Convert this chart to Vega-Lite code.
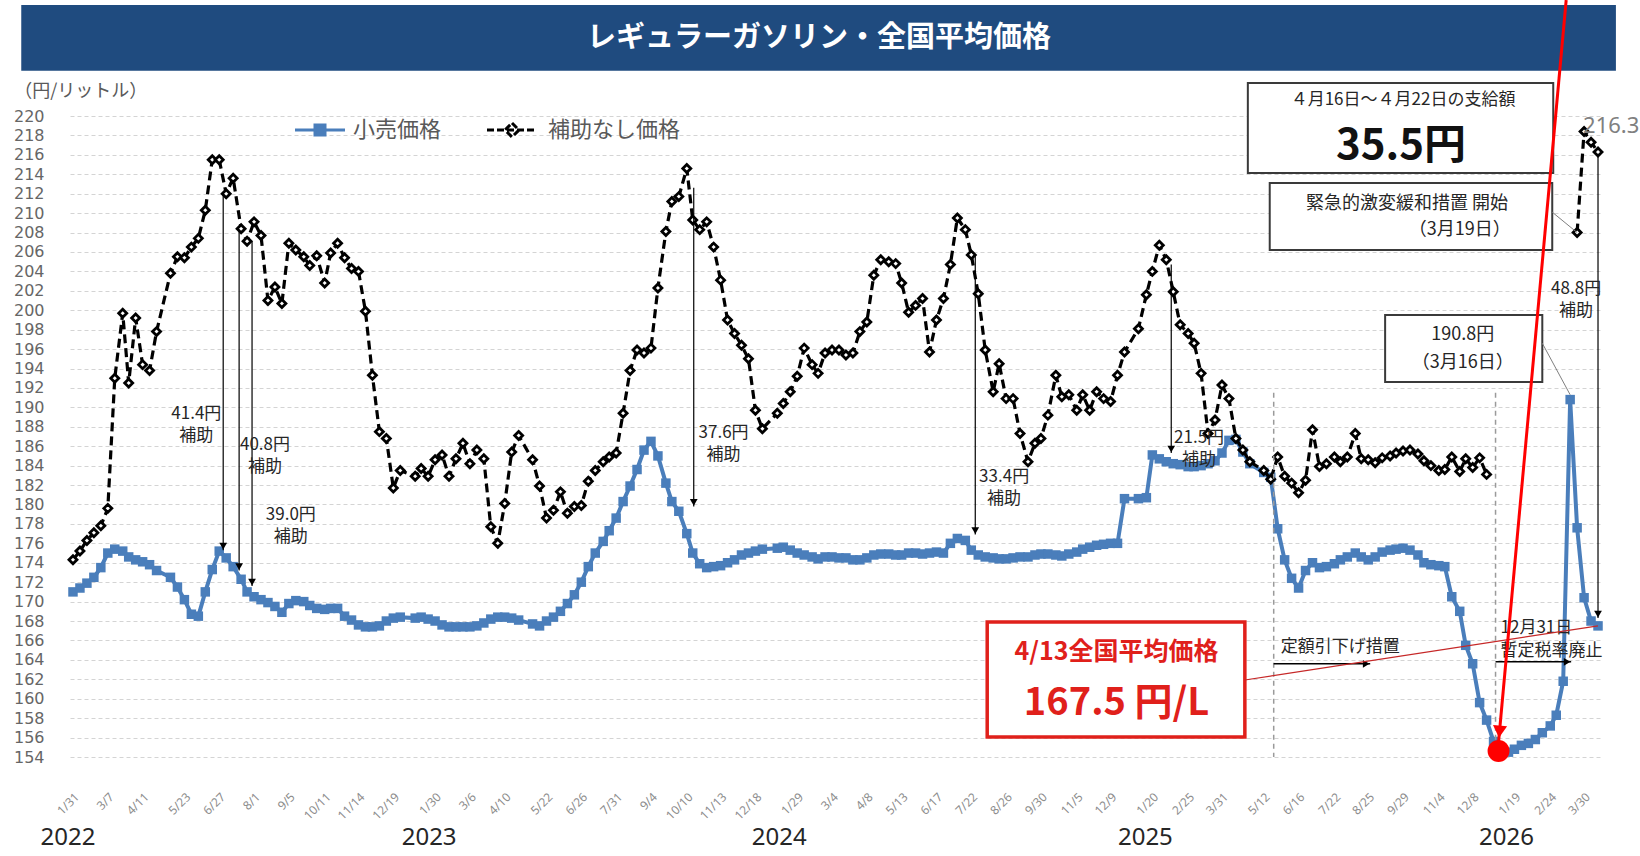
{
"$schema": "https://vega.github.io/schema/vega-lite/v6.json",
"width": 1530, "height": 641,
"autosize": {"type": "none"},
"padding": {"left": 70, "top": 116, "right": 40, "bottom": 99},
"background": "#ffffff",
"config": {"view": {"stroke": null}, "axis": {"labelOverlap": false, "labelBound": false, "labelFlush": false}},
"resolve": {"scale": {"color": "independent"}, "legend": {"color": "independent"}},
"datasets": {
"main": [
{"d":"2022-01-31","r":171.0,"n":174.3},{"d":"2022-02-07","r":171.4,"n":175.2},{"d":"2022-02-14","r":171.9,"n":176.3},{"d":"2022-02-21","r":172.5,"n":177.1},{"d":"2022-02-28","r":173.5,"n":177.8},
{"d":"2022-03-07","r":175.0,"n":179.6},{"d":"2022-03-14","r":175.4,"n":193.0},{"d":"2022-03-22","r":175.2,"n":199.7},{"d":"2022-03-28","r":174.6,"n":192.5},{"d":"2022-04-04","r":174.3,"n":199.2},
{"d":"2022-04-11","r":174.1,"n":194.4},{"d":"2022-04-18","r":173.8,"n":193.8},{"d":"2022-04-25","r":173.2,"n":197.8},{"d":"2022-05-09","r":172.5,"n":203.8},{"d":"2022-05-16","r":171.5,"n":205.5},
{"d":"2022-05-23","r":170.2,"n":205.4},{"d":"2022-05-30","r":168.7,"n":206.5},{"d":"2022-06-06","r":168.5,"n":207.4},{"d":"2022-06-13","r":171.0,"n":210.3},{"d":"2022-06-20","r":173.3,"n":215.5},
{"d":"2022-06-27","r":175.2,"n":215.5},{"d":"2022-07-04","r":174.5,"n":212.0},{"d":"2022-07-11","r":173.6,"n":213.6},{"d":"2022-07-19","r":172.3,"n":208.4},{"d":"2022-07-25","r":171.0,"n":207.1},
{"d":"2022-08-01","r":170.5,"n":209.1},{"d":"2022-08-08","r":170.2,"n":207.7},{"d":"2022-08-15","r":169.9,"n":201.0},{"d":"2022-08-22","r":169.5,"n":202.4},{"d":"2022-08-29","r":168.9,"n":200.7},
{"d":"2022-09-05","r":169.8,"n":206.9},{"d":"2022-09-12","r":170.1,"n":206.2},{"d":"2022-09-20","r":170.0,"n":205.5},{"d":"2022-09-26","r":169.6,"n":204.6},{"d":"2022-10-03","r":169.3,"n":205.6},
{"d":"2022-10-11","r":169.2,"n":202.8},{"d":"2022-10-17","r":169.3,"n":205.9},{"d":"2022-10-24","r":169.3,"n":206.9},{"d":"2022-10-31","r":168.5,"n":205.4},{"d":"2022-11-07","r":168.1,"n":204.3},
{"d":"2022-11-14","r":167.6,"n":204.0},{"d":"2022-11-21","r":167.4,"n":199.9},{"d":"2022-11-28","r":167.4,"n":193.3},{"d":"2022-12-05","r":167.5,"n":187.5},{"d":"2022-12-12","r":168.0,"n":186.8},
{"d":"2022-12-19","r":168.3,"n":181.7},{"d":"2022-12-26","r":168.4,"n":183.5},{"d":"2023-01-10","r":168.3,"n":182.9},{"d":"2023-01-16","r":168.4,"n":183.7},{"d":"2023-01-23","r":168.2,"n":182.9},
{"d":"2023-01-30","r":168.0,"n":184.6},{"d":"2023-02-06","r":167.6,"n":185.1},{"d":"2023-02-13","r":167.4,"n":182.9},{"d":"2023-02-20","r":167.4,"n":184.7},{"d":"2023-02-27","r":167.4,"n":186.3},
{"d":"2023-03-06","r":167.4,"n":184.2},{"d":"2023-03-13","r":167.5,"n":185.6},{"d":"2023-03-20","r":167.8,"n":184.7},{"d":"2023-03-27","r":168.2,"n":177.7},{"d":"2023-04-03","r":168.4,"n":176.0},
{"d":"2023-04-10","r":168.4,"n":180.1},{"d":"2023-04-17","r":168.3,"n":185.4},{"d":"2023-04-24","r":168.1,"n":187.1},{"d":"2023-05-08","r":167.7,"n":184.6},{"d":"2023-05-15","r":167.5,"n":181.9},
{"d":"2023-05-22","r":168.0,"n":178.6},{"d":"2023-05-29","r":168.4,"n":179.4},{"d":"2023-06-05","r":169.0,"n":181.3},{"d":"2023-06-12","r":169.8,"n":179.1},{"d":"2023-06-19","r":170.7,"n":179.8},
{"d":"2023-06-26","r":172.0,"n":179.9},{"d":"2023-07-03","r":173.6,"n":182.4},{"d":"2023-07-10","r":175.0,"n":183.5},{"d":"2023-07-18","r":176.2,"n":184.4},{"d":"2023-07-24","r":177.3,"n":184.9},
{"d":"2023-07-31","r":178.6,"n":185.3},{"d":"2023-08-07","r":180.3,"n":189.4},{"d":"2023-08-14","r":181.9,"n":193.8},{"d":"2023-08-21","r":183.6,"n":195.9},{"d":"2023-08-28","r":185.6,"n":195.6},
{"d":"2023-09-04","r":186.5,"n":196.1},{"d":"2023-09-11","r":185.0,"n":202.3},{"d":"2023-09-19","r":182.2,"n":208.1},{"d":"2023-09-25","r":180.3,"n":211.2},{"d":"2023-10-02","r":179.3,"n":211.7},
{"d":"2023-10-10","r":177.0,"n":214.6},{"d":"2023-10-16","r":175.0,"n":209.3},{"d":"2023-10-23","r":173.9,"n":208.3},{"d":"2023-10-30","r":173.5,"n":209.1},{"d":"2023-11-06","r":173.6,"n":206.5},
{"d":"2023-11-13","r":173.7,"n":203.1},{"d":"2023-11-20","r":174.0,"n":199.0},{"d":"2023-11-27","r":174.3,"n":197.6},{"d":"2023-12-04","r":174.8,"n":196.4},{"d":"2023-12-11","r":175.0,"n":195.0},
{"d":"2023-12-18","r":175.2,"n":189.7},{"d":"2023-12-25","r":175.4,"n":187.8},{"d":"2024-01-09","r":175.5,"n":189.4},{"d":"2024-01-15","r":175.6,"n":190.4},{"d":"2024-01-22","r":175.3,"n":191.6},
{"d":"2024-01-29","r":175.0,"n":193.2},{"d":"2024-02-05","r":174.8,"n":196.1},{"d":"2024-02-13","r":174.6,"n":194.4},{"d":"2024-02-19","r":174.4,"n":193.5},{"d":"2024-02-26","r":174.6,"n":195.6},
{"d":"2024-03-04","r":174.6,"n":195.9},{"d":"2024-03-11","r":174.5,"n":195.9},{"d":"2024-03-18","r":174.5,"n":195.4},{"d":"2024-03-25","r":174.3,"n":195.6},{"d":"2024-04-01","r":174.3,"n":197.8},
{"d":"2024-04-08","r":174.5,"n":198.8},{"d":"2024-04-15","r":174.8,"n":203.6},{"d":"2024-04-22","r":174.9,"n":205.2},{"d":"2024-04-30","r":174.9,"n":205.0},{"d":"2024-05-07","r":174.8,"n":204.8},
{"d":"2024-05-13","r":174.8,"n":202.8},{"d":"2024-05-20","r":175.0,"n":199.8},{"d":"2024-05-27","r":175.0,"n":200.5},{"d":"2024-06-03","r":174.9,"n":201.2},{"d":"2024-06-10","r":175.0,"n":195.7},
{"d":"2024-06-17","r":175.1,"n":199.0},{"d":"2024-06-24","r":175.0,"n":201.2},{"d":"2024-07-01","r":176.0,"n":204.7},{"d":"2024-07-08","r":176.5,"n":209.5},{"d":"2024-07-16","r":176.3,"n":208.3},
{"d":"2024-07-22","r":175.3,"n":205.7},{"d":"2024-07-29","r":174.8,"n":201.7},{"d":"2024-08-05","r":174.6,"n":195.9},{"d":"2024-08-13","r":174.5,"n":191.6},{"d":"2024-08-19","r":174.4,"n":194.5},
{"d":"2024-08-26","r":174.4,"n":190.9},{"d":"2024-09-02","r":174.5,"n":190.9},{"d":"2024-09-09","r":174.6,"n":187.3},{"d":"2024-09-17","r":174.6,"n":184.4},{"d":"2024-09-24","r":174.8,"n":186.3},
{"d":"2024-09-30","r":174.9,"n":186.8},{"d":"2024-10-07","r":174.9,"n":189.2},{"d":"2024-10-15","r":174.8,"n":193.3},{"d":"2024-10-21","r":174.7,"n":191.1},{"d":"2024-10-28","r":174.9,"n":191.3},
{"d":"2024-11-05","r":175.1,"n":189.7},{"d":"2024-11-11","r":175.4,"n":191.3},{"d":"2024-11-18","r":175.6,"n":189.7},{"d":"2024-11-25","r":175.8,"n":191.6},{"d":"2024-12-02","r":175.9,"n":190.9},
{"d":"2024-12-09","r":176.0,"n":190.6},{"d":"2024-12-16","r":176.0,"n":193.3},{"d":"2024-12-23","r":180.6,"n":195.7},{"d":"2025-01-06","r":180.6,"n":198.1},{"d":"2025-01-14","r":180.7,"n":201.6},
{"d":"2025-01-20","r":185.1,"n":204.0},{"d":"2025-01-27","r":184.7,"n":206.7},{"d":"2025-02-03","r":184.4,"n":205.2},{"d":"2025-02-10","r":184.2,"n":201.9},{"d":"2025-02-17","r":184.1,"n":198.5},
{"d":"2025-02-25","r":183.9,"n":197.6},{"d":"2025-03-03","r":183.9,"n":196.6},{"d":"2025-03-10","r":184.0,"n":193.5},{"d":"2025-03-17","r":184.2,"n":187.3},{"d":"2025-03-24","r":184.5,"n":188.7},
{"d":"2025-03-31","r":185.3,"n":192.3},{"d":"2025-04-07","r":186.6,"n":190.9},{"d":"2025-04-14","r":186.7,"n":186.8},{"d":"2025-04-21","r":185.4,"n":185.6},{"d":"2025-04-28","r":184.2,"n":184.4},
{"d":"2025-05-12","r":183.3,"n":183.5},{"d":"2025-05-19","r":182.8,"n":182.6},{"d":"2025-05-26","r":177.5,"n":184.9},{"d":"2025-06-02","r":174.3,"n":182.9},{"d":"2025-06-09","r":172.4,"n":182.2},
{"d":"2025-06-16","r":171.4,"n":181.2},{"d":"2025-06-23","r":173.2,"n":182.5},{"d":"2025-06-30","r":174.0,"n":187.7},{"d":"2025-07-07","r":173.5,"n":183.9},{"d":"2025-07-14","r":173.6,"n":184.2},
{"d":"2025-07-22","r":173.9,"n":184.9},{"d":"2025-07-28","r":174.3,"n":184.4},{"d":"2025-08-04","r":174.6,"n":184.9},{"d":"2025-08-12","r":175.0,"n":187.3},{"d":"2025-08-18","r":174.6,"n":184.7},
{"d":"2025-08-25","r":174.3,"n":184.6},{"d":"2025-09-01","r":174.6,"n":184.3},{"d":"2025-09-08","r":175.1,"n":184.8},{"d":"2025-09-16","r":175.3,"n":185.0},{"d":"2025-09-22","r":175.4,"n":185.3},
{"d":"2025-09-29","r":175.5,"n":185.5},{"d":"2025-10-06","r":175.3,"n":185.6},{"d":"2025-10-14","r":174.8,"n":185.2},{"d":"2025-10-20","r":174.0,"n":184.5},{"d":"2025-10-27","r":173.8,"n":184.0},
{"d":"2025-11-04","r":173.7,"n":183.5},{"d":"2025-11-10","r":173.6,"n":183.6},{"d":"2025-11-17","r":170.5,"n":184.9},{"d":"2025-11-25","r":169.0,"n":183.4},{"d":"2025-12-01","r":165.5,"n":184.7},
{"d":"2025-12-08","r":163.6,"n":183.8},{"d":"2025-12-15","r":159.6,"n":184.8},{"d":"2025-12-22","r":157.8,"n":183.1},{"d":"2025-12-29","r":155.6,"n":null},{"d":"2026-01-13","r":154.5,"n":null},
{"d":"2026-01-19","r":154.8,"n":null},{"d":"2026-01-26","r":155.2,"n":null},{"d":"2026-02-02","r":155.4,"n":null},{"d":"2026-02-09","r":155.8,"n":null},{"d":"2026-02-16","r":156.5,"n":null},
{"d":"2026-02-24","r":157.2,"n":null},{"d":"2026-03-02","r":158.3,"n":null},{"d":"2026-03-09","r":161.8,"n":null},{"d":"2026-03-16","r":190.8,"n":null},{"d":"2026-03-23","r":177.6,"n":208.0},
{"d":"2026-03-30","r":170.4,"n":218.4},{"d":"2026-04-06","r":168.0,"n":217.3},{"d":"2026-04-13","r":167.5,"n":216.3}
],
"arrows": [
{"d":"2022-07-01","top":212.0,"bot":175.3},{"d":"2022-07-17","top":208.3,"bot":173.2},{"d":"2022-07-30","top":207.1,"bot":171.6},
{"d":"2023-10-17","top":212.6,"bot":179.8},{"d":"2024-07-26","top":205.7,"bot":176.9},{"d":"2025-02-08","top":204.7,"bot":185.3},
{"d":"2026-04-13","top":216.0,"bot":168.3}
],
"sublabels": [
{"d":"2022-06-04","v":189.3,"t":"41.4円\n補助"},{"d":"2022-08-12","v":186.1,"t":"40.8円\n補助"},{"d":"2022-09-07","v":178.9,"t":"39.0円\n補助"},
{"d":"2023-11-16","v":187.4,"t":"37.6円\n補助"},{"d":"2024-08-24","v":182.8,"t":"33.4円\n補助"},{"d":"2025-03-08","v":186.85,"t":"21.5円\n補助"},
{"d":"2026-03-22","v":202.2,"t":"48.8円\n補助"}
],
"years": [
{"d":"2022-01-26","t":"2022"},{"d":"2023-01-24","t":"2023"},{"d":"2024-01-11","t":"2024"},{"d":"2025-01-13","t":"2025"},{"d":"2026-01-11","t":"2026"}
],
"boxes": [
{"d1":"2025-04-26","d2":"2026-02-27","v1":223.4,"v2":214.13},
{"d1":"2025-05-18","d2":"2026-02-26","v1":213.1,"v2":206.2},
{"d1":"2025-09-11","d2":"2026-02-16","v1":199.5,"v2":192.6}
],
"boxtexts": [
{"d":"2025-10-03","v":210.9,"t":"緊急的激変緩和措置 開始"},
{"d":"2025-11-25","v":208.25,"t":"（3月19日）"},
{"d":"2025-11-28","v":197.4,"t":"190.8円"},
{"d":"2025-11-28","v":194.6,"t":"（3月16日）"}
],
"connectors": [
{"d1":"2026-02-26","v1":210.1,"d2":"2026-03-23","v2":208.0},
{"d1":"2026-02-16","v1":196.6,"d2":"2026-03-16","v2":191.3}
],
"harrows": [
{"d":"2025-05-22","d2":"2025-08-27","v":163.6},
{"d":"2025-12-31","d2":"2026-03-17","v":163.8}
],
"notes": [
{"d":"2025-05-29","v":165.3,"t":"定額引下げ措置"},
{"d":"2026-01-05","v":167.3,"t":"12月31日"},
{"d":"2026-01-05","v":164.9,"t":"暫定税率廃止"}
]
},
"layer": [
{"data":{"name":"main"},"mark":{"type":"line","strokeWidth":4},
 "encoding":{
  "x":{"field":"d","type":"temporal","title":null,
   "scale":{"type":"utc","nice":false,"domain":[{"year":2022,"month":1,"date":28,"utc":true},{"year":2026,"month":4,"date":15,"utc":true}]},
   "axis":{"format":"%-m/%-d","labelAngle":-45,"labelFontSize":12,"labelColor":"#8c8c8c","labelFont":"Noto Sans","labelPadding":34,"domain":false,"ticks":false,"grid":false,"labelOverlap":false,"labelBound":false,"labelFlush":false,"tickCount":200,
    "values":[
    {"year":2022,"month":1,"date":31,"utc":true},{"year":2022,"month":3,"date":7,"utc":true},{"year":2022,"month":4,"date":11,"utc":true},{"year":2022,"month":5,"date":23,"utc":true},{"year":2022,"month":6,"date":27,"utc":true},
    {"year":2022,"month":8,"date":1,"utc":true},{"year":2022,"month":9,"date":5,"utc":true},{"year":2022,"month":10,"date":11,"utc":true},{"year":2022,"month":11,"date":14,"utc":true},{"year":2022,"month":12,"date":19,"utc":true},
    {"year":2023,"month":1,"date":30,"utc":true},{"year":2023,"month":3,"date":6,"utc":true},{"year":2023,"month":4,"date":10,"utc":true},{"year":2023,"month":5,"date":22,"utc":true},{"year":2023,"month":6,"date":26,"utc":true},
    {"year":2023,"month":7,"date":31,"utc":true},{"year":2023,"month":9,"date":4,"utc":true},{"year":2023,"month":10,"date":10,"utc":true},{"year":2023,"month":11,"date":13,"utc":true},{"year":2023,"month":12,"date":18,"utc":true},
    {"year":2024,"month":1,"date":29,"utc":true},{"year":2024,"month":3,"date":4,"utc":true},{"year":2024,"month":4,"date":8,"utc":true},{"year":2024,"month":5,"date":13,"utc":true},{"year":2024,"month":6,"date":17,"utc":true},
    {"year":2024,"month":7,"date":22,"utc":true},{"year":2024,"month":8,"date":26,"utc":true},{"year":2024,"month":9,"date":30,"utc":true},{"year":2024,"month":11,"date":5,"utc":true},{"year":2024,"month":12,"date":9,"utc":true},
    {"year":2025,"month":1,"date":20,"utc":true},{"year":2025,"month":2,"date":25,"utc":true},{"year":2025,"month":3,"date":31,"utc":true},{"year":2025,"month":5,"date":12,"utc":true},{"year":2025,"month":6,"date":16,"utc":true},
    {"year":2025,"month":7,"date":22,"utc":true},{"year":2025,"month":8,"date":25,"utc":true},{"year":2025,"month":9,"date":29,"utc":true},{"year":2025,"month":11,"date":4,"utc":true},{"year":2025,"month":12,"date":8,"utc":true},
    {"year":2026,"month":1,"date":19,"utc":true},{"year":2026,"month":2,"date":24,"utc":true},{"year":2026,"month":3,"date":30,"utc":true}
    ]}},
  "y":{"field":"r","type":"quantitative","title":null,"scale":{"domain":[154,220],"nice":false,"zero":false},
   "axis":{"values":[154,156,158,160,162,164,166,168,170,172,174,176,178,180,182,184,186,188,190,192,194,196,198,200,202,204,206,208,210,212,214,216,218,220],"tickCount":200,"format":"d",
    "labelFontSize":16,"labelColor":"#666666","labelFont":"DejaVu Sans","labelPadding":26,"ticks":false,"domain":false,"grid":true,"gridColor":"#d4d4d4","gridDash":[4,3],"gridWidth":1,"labelOverlap":false,"labelBound":false,"labelFlush":false}},
  "color":{"datum":"小売価格","type":"nominal","scale":{"range":["#4A7EBB"]},
   "legend":{"title":null,"orient":"none","legendX":239,"legendY":3,"direction":"horizontal","padding":0,"symbolType":"M-5,0L5,0M-1,-1L1,-1L1,1L-1,1Z","symbolSize":100,"symbolStrokeWidth":3,"symbolFillColor":"#4A7EBB","symbolStrokeColor":"#4A7EBB","labelFontSize":22,"labelColor":"#595959","labelFont":"Noto Sans CJK JP","labelOffset":22,"labelLimit":300}}
 }},
{"data":{"values":[{}]},"mark":{"type":"rect","color":"#1F4B7F"},
 "encoding":{"x":{"datum":{"year":2021,"month":12,"date":10,"utc":true},"type":"temporal","title":null},"x2":{"datum":{"year":2026,"month":5,"date":1,"utc":true}},
 "y":{"datum":231.43,"type":"quantitative","title":null},"y2":{"datum":224.65}}},
{"data":{"values":[{}]},"mark":{"type":"text","text":"レギュラーガソリン・全国平均価格","font":"Noto Sans CJK JP","fontWeight":"bold","fontSize":29,"color":"#ffffff","align":"center","baseline":"middle"},
 "encoding":{"x":{"datum":{"year":2024,"month":2,"date":20,"utc":true},"type":"temporal","title":null},"y":{"datum":228.03,"type":"quantitative","title":null}}},
{"data":{"values":[{}]},"mark":{"type":"text","text":"（円/リットル）","font":"Noto Sans CJK JP","fontSize":18,"color":"#595959","align":"left","baseline":"middle"},
 "encoding":{"x":{"datum":{"year":2021,"month":12,"date":3,"utc":true},"type":"temporal","title":null},"y":{"datum":222.47,"type":"quantitative","title":null}}},
{"data":{"name":"main"},"mark":{"type":"point","shape":"square","filled":true,"size":90,"color":"#4A7EBB","opacity":1},
 "encoding":{"x":{"field":"d","type":"temporal","title":null},"y":{"field":"r","type":"quantitative","title":null}}},
{"data":{"name":"main"},"mark":{"type":"line","strokeWidth":3.2,"strokeDash":[9,5],"invalid":"break-paths-filter-domains"},
 "encoding":{"x":{"field":"d","type":"temporal","title":null},"y":{"field":"n","type":"quantitative","title":null},
  "color":{"datum":"補助なし価格","type":"nominal","scale":{"range":["#000000"]},
   "legend":{"title":null,"orient":"none","legendX":431,"legendY":3,"direction":"horizontal","padding":0,"symbolType":"M-5,0L5,0M0,-1.4L1.4,0L0,1.4L-1.4,0Z","symbolSize":100,"symbolStrokeWidth":3,"symbolDash":[7,3],"symbolFillColor":"#ffffff","symbolStrokeColor":"#000000","labelFontSize":22,"labelColor":"#595959","labelFont":"Noto Sans CJK JP","labelOffset":25,"labelLimit":300}}}},
{"data":{"name":"main"},"mark":{"type":"point","shape":"diamond","filled":true,"size":64,"fill":"#ffffff","stroke":"#000000","strokeWidth":2.8,"opacity":1},
 "encoding":{"x":{"field":"d","type":"temporal","title":null},"y":{"field":"n","type":"quantitative","title":null}}},
{"data":{"values":[{"d":"2025-05-22"},{"d":"2025-12-31"}]},"mark":{"type":"rule","color":"#9a9a9a","strokeWidth":1.5,"strokeDash":[5,4]},
 "encoding":{"x":{"field":"d","type":"temporal","title":null},"y":{"datum":191.5,"type":"quantitative","title":null},"y2":{"datum":154}}},
{"data":{"name":"arrows"},"mark":{"type":"rule","color":"#000000","strokeWidth":1.2},
 "encoding":{"x":{"field":"d","type":"temporal","title":null},"y":{"field":"top","type":"quantitative","title":null},"y2":{"field":"bot"}}},
{"data":{"name":"arrows"},"mark":{"type":"point","shape":"triangle-down","filled":true,"size":60,"color":"#000000","opacity":1,"yOffset":-4},
 "encoding":{"x":{"field":"d","type":"temporal","title":null},"y":{"field":"bot","type":"quantitative","title":null}}},
{"data":{"name":"sublabels"},"mark":{"type":"text","font":"Noto Sans CJK JP","fontSize":17,"color":"#262626","lineBreak":"\n","lineHeight":22,"align":"center","baseline":"middle"},
 "encoding":{"x":{"field":"d","type":"temporal","title":null},"y":{"field":"v","type":"quantitative","title":null},"text":{"field":"t"}}},
{"data":{"name":"harrows"},"mark":{"type":"rule","color":"#000000","strokeWidth":1.5},
 "encoding":{"x":{"field":"d","type":"temporal","title":null},"x2":{"field":"d2"},"y":{"field":"v","type":"quantitative","title":null}}},
{"data":{"name":"harrows"},"mark":{"type":"point","shape":"triangle-right","filled":true,"size":60,"color":"#000000","opacity":1,"xOffset":-4},
 "encoding":{"x":{"field":"d2","type":"temporal","title":null},"y":{"field":"v","type":"quantitative","title":null}}},
{"data":{"name":"notes"},"mark":{"type":"text","font":"Noto Sans CJK JP","fontSize":17,"color":"#262626","align":"left","baseline":"middle"},
 "encoding":{"x":{"field":"d","type":"temporal","title":null},"y":{"field":"v","type":"quantitative","title":null},"text":{"field":"t"}}},
{"data":{"name":"boxes"},"mark":{"type":"rect","fill":"#ffffff","stroke":"#3a3a3a","strokeWidth":2},
 "encoding":{"x":{"field":"d1","type":"temporal","title":null},"x2":{"field":"d2"},"y":{"field":"v1","type":"quantitative","title":null},"y2":{"field":"v2"}}},
{"data":{"name":"boxtexts"},"mark":{"type":"text","font":"Noto Sans CJK JP","fontSize":18,"color":"#262626","align":"center","baseline":"middle"},
 "encoding":{"x":{"field":"d","type":"temporal","title":null},"y":{"field":"v","type":"quantitative","title":null},"text":{"field":"t"}}},
{"data":{"values":[{}]},"mark":{"type":"text","text":"４月16日～４月22日の支給額","font":"Noto Sans CJK JP","fontSize":17,"color":"#262626","align":"center","baseline":"middle"},
 "encoding":{"x":{"datum":{"year":2025,"month":9,"date":29,"utc":true},"type":"temporal","title":null},"y":{"datum":221.6,"type":"quantitative","title":null}}},
{"data":{"values":[{}]},"mark":{"type":"text","text":"35.5円","font":"Noto Sans CJK JP","fontWeight":"bold","fontSize":42,"color":"#111111","align":"center","baseline":"middle"},
 "encoding":{"x":{"datum":{"year":2025,"month":9,"date":27,"utc":true},"type":"temporal","title":null},"y":{"datum":216.95,"type":"quantitative","title":null}}},
{"data":{"name":"connectors"},"mark":{"type":"rule","color":"#7f7f7f","strokeWidth":1},
 "encoding":{"x":{"field":"d1","type":"temporal","title":null},"x2":{"field":"d2"},"y":{"field":"v1","type":"quantitative","title":null},"y2":{"field":"v2"}}},
{"data":{"values":[{}]},"mark":{"type":"rect","fill":"#ffffff","stroke":"#E0201B","strokeWidth":3.5},
 "encoding":{"x":{"datum":{"year":2024,"month":8,"date":7,"utc":true},"type":"temporal","title":null},"x2":{"datum":{"year":2025,"month":4,"date":23,"utc":true}},
  "y":{"datum":167.9,"type":"quantitative","title":null},"y2":{"datum":156.06}}},
{"data":{"values":[{}]},"mark":{"type":"text","text":"4/13全国平均価格","font":"Noto Sans CJK JP","fontWeight":"bold","fontSize":25,"color":"#E0201B","align":"center","baseline":"middle"},
 "encoding":{"x":{"datum":{"year":2024,"month":12,"date":15,"utc":true},"type":"temporal","title":null},"y":{"datum":164.8,"type":"quantitative","title":null}}},
{"data":{"values":[{}]},"mark":{"type":"text","text":"167.5 円/L","font":"Noto Sans CJK JP","fontWeight":"bold","fontSize":38,"color":"#E0201B","align":"center","baseline":"middle"},
 "encoding":{"x":{"datum":{"year":2024,"month":12,"date":15,"utc":true},"type":"temporal","title":null},"y":{"datum":159.5,"type":"quantitative","title":null}}},
{"data":{"values":[{}]},"mark":{"type":"rule","color":"#C62828","strokeWidth":1.2},
 "encoding":{"x":{"datum":{"year":2025,"month":4,"date":23,"utc":true},"type":"temporal","title":null},"x2":{"datum":{"year":2026,"month":4,"date":13,"utc":true}},
  "y":{"datum":161.93,"type":"quantitative","title":null},"y2":{"datum":167.5}}},
{"data":{"values":[{}]},"mark":{"type":"text","text":"216.3","font":"Noto Sans","fontSize":22,"color":"#808080","align":"left","baseline":"middle"},
 "encoding":{"x":{"datum":{"year":2026,"month":3,"date":29,"utc":true},"type":"temporal","title":null},"y":{"datum":219.0,"type":"quantitative","title":null}}},
{"data":{"name":"years"},"mark":{"type":"text","font":"Liberation Sans Narrow, Noto Sans","fontSize":24,"color":"#262626","align":"center","baseline":"middle"},
 "encoding":{"x":{"field":"d","type":"temporal","title":null},"y":{"datum":145.66,"type":"quantitative","title":null},"text":{"field":"t"}}},
{"data":{"values":[{}]},"mark":{"type":"rule","color":"#FF0000","strokeWidth":3},
 "encoding":{"x":{"datum":{"year":2026,"month":3,"date":12,"utc":true},"type":"temporal","title":null},"x2":{"datum":{"year":2026,"month":1,"date":3,"utc":true}},
  "y":{"datum":231.94,"type":"quantitative","title":null},"y2":{"datum":155.5}}},
{"data":{"values":[{}]},"mark":{"type":"point","shape":"triangle-down","filled":true,"size":200,"angle":5,"color":"#FF0000","opacity":1},
 "encoding":{"x":{"datum":{"year":2026,"month":1,"date":4,"utc":true},"type":"temporal","title":null},"y":{"datum":156.6,"type":"quantitative","title":null}}},
{"data":{"values":[{}]},"mark":{"type":"point","shape":"circle","filled":true,"size":480,"color":"#FF0000","opacity":1},
 "encoding":{"x":{"datum":{"year":2026,"month":1,"date":3,"utc":true},"type":"temporal","title":null},"y":{"datum":154.62,"type":"quantitative","title":null}}}
]
}
